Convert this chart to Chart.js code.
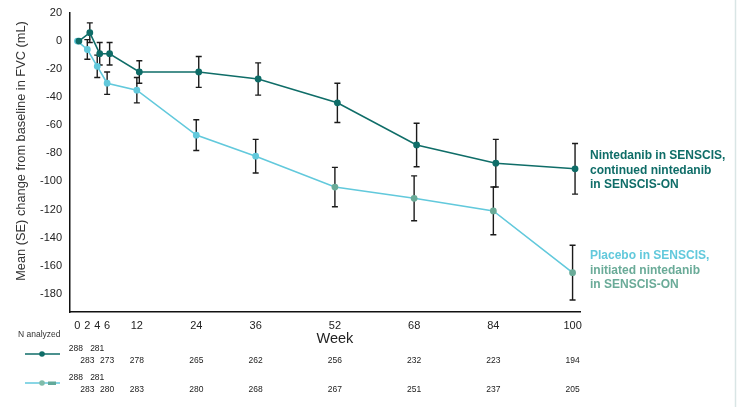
<!DOCTYPE html>
<html><head><meta charset="utf-8">
<script src="https://cdn.jsdelivr.net/npm/chart.js@4"></script>
<style>html,body{margin:0;padding:0;background:#fff}#wrap{width:737px;height:407px;position:relative}</style>
</head><body><div id="wrap"><canvas id="c" width="737" height="407"></canvas></div>
<script>
// ---- data ----
const weeks = [0, 2, 4, 6, 12, 24, 36, 52, 68, 84, 100];
const xTickLabels = [0, 2, 4, 6, 12, 24, 36, 52, 68, 84, 100];
const yTickValues = [20, 0, -20, -40, -60, -80, -100, -120, -140, -160, -180];
const ninMean = [0, 6, -9, -9, -22, -22, -27, -44, -74, -87, -91];
const ninSE   = [0, 7, 8, 8, 8, 11, 11.5, 14, 15.5, 17, 18];
const plaMean = [0, -6, -18, -30, -35, -67, -82, -104, -112, -121, -165];
const plaSE   = [0, 7, 8, 8, 9, 11, 12, 14, 16, 17, 19.5];
const ninN = [288, 283, 281, 273, 278, 265, 262, 256, 232, 223, 194];
const plaN = [288, 283, 281, 280, 283, 280, 268, 267, 251, 237, 205];
const ninLabel = ["Nintedanib in SENSCIS,", "continued nintedanib", "in SENSCIS-ON"];
const plaLabel = ["Placebo in SENSCIS,", "initiated nintedanib", "in SENSCIS-ON"];
const yTitle = "Mean (SE) change from baseline in FVC (mL)";
const xTitle = "Week";
const nTitle = "N analyzed";

const DARK = '#0f6d68', CYAN = '#62c9dc', GREEN = '#6aab98';
const DODGE = 0.5;
const FONT = "'Liberation Sans', Arial, sans-serif";

const ninPts = weeks.map((w, i) => ({x: w + (i === 0 ? 0.3 : DODGE), y: ninMean[i], se: ninSE[i]}));
const plaPts = weeks.map((w, i) => ({x: w, y: plaMean[i], se: plaSE[i]}));
const plaPtColors = weeks.map(w => w >= 52 ? GREEN : CYAN);

const extras = {
  id: 'extras',
  beforeDatasetsDraw(chart) {
    const {ctx, scales: {x, y}} = chart;
    ctx.save();
    ctx.strokeStyle = '#1b1b1b';
    ctx.lineWidth = 1.4;
    [ninPts, plaPts].forEach(pts => pts.forEach(p => {
      if (!p.se) return;
      const px = x.getPixelForValue(p.x);
      const t = y.getPixelForValue(p.y + p.se), b = y.getPixelForValue(p.y - p.se);
      ctx.beginPath();
      ctx.moveTo(px, t); ctx.lineTo(px, b);
      ctx.moveTo(px - 3, t); ctx.lineTo(px + 3, t);
      ctx.moveTo(px - 3, b); ctx.lineTo(px + 3, b);
      ctx.stroke();
    }));
    ctx.restore();
  },
  afterDraw(chart) {
    const {ctx, scales: {x, y}} = chart;
    ctx.save();
    // right edge line
    ctx.strokeStyle = '#d9e5e5'; ctx.lineWidth = 1.5;
    ctx.beginPath(); ctx.moveTo(735.5, 0); ctx.lineTo(735.5, 407); ctx.stroke();
    // y title
    ctx.save();
    ctx.translate(21, 151);
    ctx.rotate(-Math.PI / 2);
    ctx.fillStyle = '#333';
    ctx.font = `12.8px ${FONT}`;
    ctx.textAlign = 'center'; ctx.textBaseline = 'middle';
    ctx.fillText(yTitle, 0, 0);
    ctx.restore();
    // x title
    ctx.fillStyle = '#222';
    ctx.font = `14.5px ${FONT}`;
    ctx.textAlign = 'center'; ctx.textBaseline = 'middle';
    ctx.fillText(xTitle, x.getPixelForValue(52), 339);
    // series labels
    ctx.textAlign = 'left';
    ctx.font = `bold 12px ${FONT}`;
    const lx = x.right + 10;
    const ny = y.getPixelForValue(ninMean[10]) - 13;
    ninLabel.forEach((s, i) => { ctx.fillStyle = DARK; ctx.fillText(s, lx, ny + i * 14.5); });
    const py = y.getPixelForValue(plaMean[10]) - 17;
    plaLabel.forEach((s, i) => { ctx.fillStyle = i === 0 ? CYAN : GREEN; ctx.fillText(s, lx, py + i * 14.5); });
    // N analyzed table
    ctx.fillStyle = '#333';
    ctx.font = `8.5px ${FONT}`;
    ctx.fillText(nTitle, 18, 335);
    // legend symbols
    ctx.lineWidth = 1.5;
    ctx.strokeStyle = DARK; ctx.beginPath(); ctx.moveTo(25, 354); ctx.lineTo(60, 354); ctx.stroke();
    ctx.fillStyle = DARK; ctx.beginPath(); ctx.arc(42, 354, 2.8, 0, Math.PI * 2); ctx.fill();
    ctx.strokeStyle = CYAN; ctx.beginPath(); ctx.moveTo(25, 383); ctx.lineTo(60, 383); ctx.stroke();
    ctx.fillStyle = '#62a99a'; ctx.fillRect(48, 381.5, 8, 3.5);
    ctx.fillStyle = '#7fbcaa'; ctx.beginPath(); ctx.arc(42, 383, 2.8, 0, Math.PI * 2); ctx.fill();
    // numbers
    ctx.fillStyle = '#222';
    ctx.font = `8.5px ${FONT}`;
    ctx.textAlign = 'center';
    const rowY = [[349, 361], [378, 390]];
    [ninN, plaN].forEach((arr, r) => arr.forEach((n, i) => {
      const upper = (weeks[i] === 0 || weeks[i] === 4);
      ctx.fillText(String(n), x.getPixelForValue(weeks[i]) - (weeks[i] === 0 ? 1.5 : 0), upper ? rowY[r][0] : rowY[r][1]);
    }));
    ctx.restore();
  }
};

new Chart(document.getElementById('c'), {
  type: 'line',
  data: {
    datasets: [
      {data: ninPts, borderColor: DARK, backgroundColor: DARK, pointBackgroundColor: DARK, pointBorderColor: DARK,
       borderWidth: 1.6, pointRadius: 2.6, tension: 0},
      {data: plaPts, borderColor: CYAN, backgroundColor: CYAN, pointBackgroundColor: plaPtColors, pointBorderColor: plaPtColors,
       borderWidth: 1.6, pointRadius: 2.6, tension: 0}
    ]
  },
  options: {
    responsive: false, animation: false, devicePixelRatio: 1,
    layout: {padding: {top: 13, right: 157, left: 0, bottom: 0}},
    plugins: {legend: {display: false}, tooltip: {enabled: false}},
    scales: {
      x: {
        type: 'linear', min: -1.5, max: 101.5,
        afterBuildTicks: s => { s.ticks = xTickLabels.map(v => ({value: v})); },
        afterFit: s => { s.height = 95; },
        grid: {display: false, drawOnChartArea: false, drawTicks: true, tickLength: 4, tickColor: '#111'},
        border: {display: true, color: '#111', width: 1.5},
        ticks: {color: '#222', font: {family: FONT, size: 11}, padding: 3, maxRotation: 0, autoSkip: false}
      },
      y: {
        type: 'linear', min: -193, max: 20,
        afterBuildTicks: s => { s.ticks = yTickValues.map(v => ({value: v})); },
        afterFit: s => { s.width = 70; },
        grid: {display: false, drawOnChartArea: false, drawTicks: true, tickLength: 5, tickColor: '#111'},
        border: {display: true, color: '#111', width: 1.5},
        ticks: {color: '#222', font: {family: FONT, size: 11}, padding: 3, autoSkip: false}
      }
    }
  },
  plugins: [extras]
});
</script></body></html>
